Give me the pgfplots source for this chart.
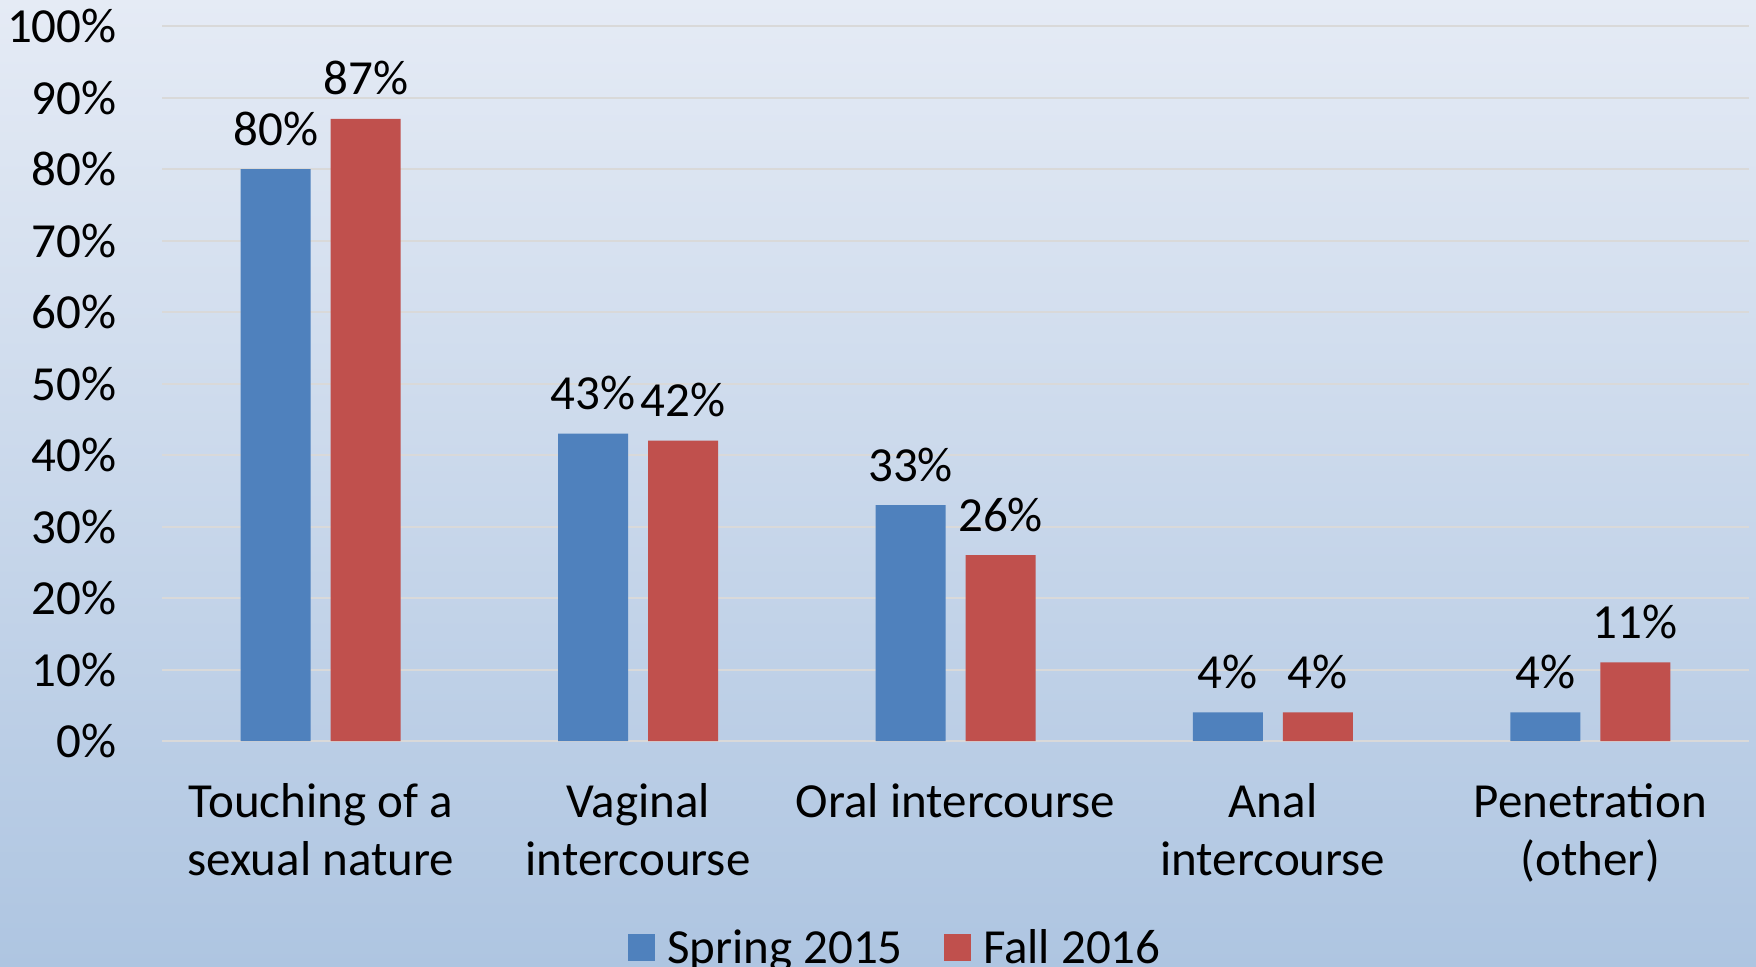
\documentclass[border=0pt]{standalone}
\usepackage{pgfplots}
\pgfplotsset{compat=1.18}
\usepackage{fontspec}
\setmainfont{Carlito}
\definecolor{sblue}{HTML}{4F81BD}
\definecolor{fred}{HTML}{C0504D}
\definecolor{bgtop}{HTML}{E5EBF5}
\definecolor{bgbot}{HTML}{AEC5E1}
\definecolor{gridc}{HTML}{D9D9D9}
\begin{document}
\begin{tikzpicture}
\useasboundingbox (0,0) rectangle (878pt,483pt);
\shade[top color=bgtop, bottom color=bgbot] (0,0) rectangle (878pt,483pt);
\begin{axis}[
  at={(81pt,112.5pt)}, anchor=south west,
  scale only axis,
  width=793.5pt, height=357.5pt,
  /pgf/number format/assume math mode=true,
  ybar=10pt, bar width=35pt,
  xmin=-0.5, xmax=4.5,
  ymin=0, ymax=100,
  axis line style={draw=none},
  axis x line*=bottom,
  major tick length=0pt,
  xtick={0,1,2,3,4},
  xticklabels={Touching of a\\sexual nature, Vaginal\\intercourse, Oral intercourse, Anal\\intercourse, Penetration\\(other)},
  xticklabel style={align=center, font=\fontsize{24.5}{29}\selectfont, anchor=north, inner sep=0pt, yshift=-21pt},
  ytick={0,10,...,100},
  yticklabels={0\%,10\%,20\%,30\%,40\%,50\%,60\%,70\%,80\%,90\%,100\%},
  yticklabel style={font=\fontsize{24.5}{28}\selectfont, anchor=east, inner sep=0pt, xshift=-22.5pt},
  ymajorgrids, grid style={gridc, line width=1pt},
  extra y ticks={0}, extra y tick labels={},
  extra y tick style={grid style={gridc, line width=1.2pt}},
  nodes near coords={\pgfmathprintnumber{\pgfplotspointmeta}\%},
  every node near coord/.append style={font=\fontsize{24.5}{28}\selectfont, anchor=base, inner sep=0pt, yshift=12pt},
  legend columns=2,
  legend style={at={(0.4627,-0.29)}, anchor=center, draw=none, fill=none,
    font=\fontsize{24.5}{28}\selectfont,
    /tikz/every odd column/.append style={column sep=4pt},
    /tikz/every even column/.append style={column sep=18.6pt}},
  legend image code/.code={\fill[#1] (0pt,-6.5pt) rectangle (13.5pt,7pt);},
]
\addplot[fill=sblue, draw=none] coordinates {(0,80) (1,43) (2,33) (3,4) (4,4)};
\addplot[fill=fred, draw=none] coordinates {(0,87) (1,42) (2,26) (3,4) (4,11)};
\legend{Spring 2015, Fall 2016}
\end{axis}
\end{tikzpicture}
\end{document}
